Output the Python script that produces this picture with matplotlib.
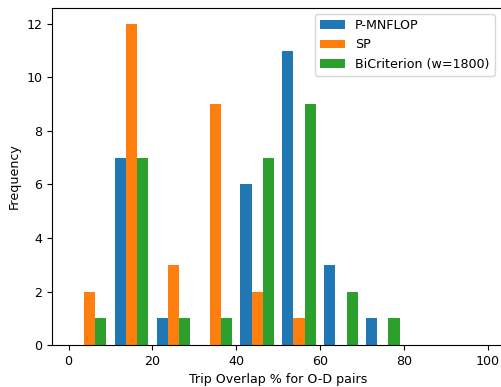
import numpy as np
import matplotlib.pyplot as plt

# histogram counts, bins of 10 from 0 to 100
bin_edges = [0, 10, 20, 30, 40, 50, 60, 70, 80, 90, 100]
labels = ["P-MNFLOP", "SP", "BiCriterion (w=1800)"]
p_mnflop = [0, 7, 1, 0, 6, 11, 3, 1, 0, 0]
sp = [2, 12, 3, 9, 2, 1, 0, 0, 0, 0]
bicriterion = [1, 7, 1, 1, 7, 9, 2, 1, 0, 0]

centers = [(a + b) / 2 for a, b in zip(bin_edges[:-1], bin_edges[1:])]

plt.rcParams["font.size"] = 9.1

fig = plt.figure(figsize=(5.02, 3.87), dpi=100)
ax = fig.add_axes([0.104, 0.1085, 0.9, 0.871])

ax.hist([centers, centers, centers], bins=bin_edges,
        weights=[p_mnflop, sp, bicriterion], label=labels)

ax.set_xlabel("Trip Overlap % for O-D pairs")
ax.set_ylabel("Frequency")
ax.legend(loc="upper right", bbox_to_anchor=(494.5 / 502, 1 - 14 / 387),
          bbox_transform=fig.transFigure, borderaxespad=0)

fig.savefig("out.png", dpi=100)
